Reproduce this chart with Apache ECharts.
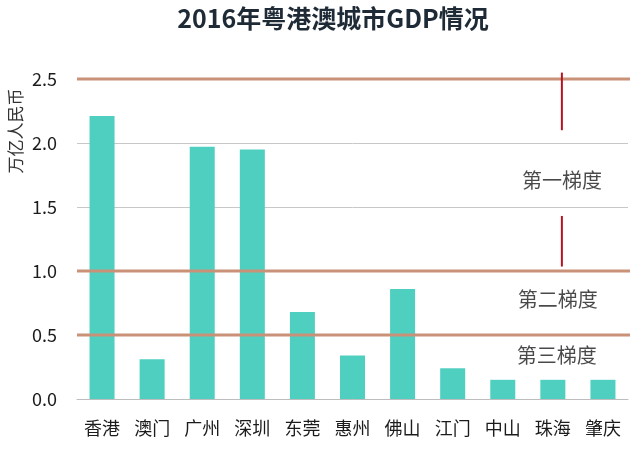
<!DOCTYPE html>
<html><head><meta charset="utf-8">
<script src="https://cdn.jsdelivr.net/npm/echarts@6/dist/echarts.min.js"></script>
<style>html,body{margin:0;padding:0;background:#fff}#c{width:640px;height:455px}</style>
</head><body><div id="c"></div>
<script>
const titleText = '2016年粤港澳城市GDP情况';
const yAxisName = '万亿人民币';
const cities = ['香港','澳门','广州','深圳','东莞','惠州','佛山','江门','中山','珠海','肇庆'];
const gdp = [2.21, 0.31, 1.97, 1.95, 0.68, 0.34, 0.86, 0.24, 0.15, 0.15, 0.15];
const yTicks = [0, 0.5, 1.0, 1.5, 2.0, 2.5];
const tierLines = [2.5, 1.0, 0.5];
const tierLabels = [[9.18, 1.71, '第一梯度'], [9.10, 0.775, '第二梯度'], [9.08, 0.34, '第三梯度']];
const redSeg1 = [[9.18, 2.55], [9.18, 2.10]];
const redSeg2 = [[9.18, 1.43], [9.18, 1.035]];
const lineSpan = [-0.5, 10.62];

const FONT = '"Noto Sans CJK SC", "Noto Sans", sans-serif';
const chart = echarts.init(document.getElementById('c'));
const series = [{
  type: 'bar', data: gdp, barWidth: 25,
  itemStyle: { color: '#4ecfc0' }, z: 2
}];
tierLines.forEach(v => series.push({
  type: 'line', xAxisIndex: 1, clip: false, z: 4, symbol: 'none', silent: true,
  data: lineSpan.map(x => [x, v]),
  lineStyle: { color: '#c99278', width: 3 }
}));
[redSeg1, redSeg2].forEach(seg => series.push({
  type: 'line', xAxisIndex: 1, clip: false, z: 5, symbol: 'none', silent: true,
  data: seg, lineStyle: { color: '#b3141f', width: 2 }
}));
series.push({
  type: 'scatter', xAxisIndex: 1, symbolSize: 0, z: 6,
  data: tierLabels.map(d => ({ value: [d[0], d[1]], name: d[2] })),
  label: { show: true, position: 'inside', formatter: p => p.name,
    fontFamily: FONT, fontSize: 20, color: '#1c1c1c' }
});
chart.setOption({
  animation: false,
  backgroundColor: '#fff',
  title: { text: titleText, left: 328, top: 1, textAlign: 'center',
    textStyle: { fontFamily: FONT, fontSize: 25, fontWeight: 'bold', color: '#1e2a36' } },
  grid: { left: 77, right: 12, top: 79, bottom: 56 },
  xAxis: [{
    type: 'category', data: cities,
    axisTick: { show: false },
    axisLine: { lineStyle: { color: '#bdbdbd', width: 1 } },
    axisLabel: { fontFamily: FONT, fontSize: 18, color: '#1c1c1c', margin: 20 }
  }, {
    type: 'value', min: -0.5, max: 10.5, show: false
  }],
  yAxis: {
    type: 'value', min: yTicks[0], max: yTicks[yTicks.length - 1], interval: 0.5,
    axisLabel: { fontFamily: FONT, fontSize: 18, color: '#1c1c1c', margin: 20,
      formatter: v => v.toFixed(1) },
    splitLine: { lineStyle: { color: '#c8c8c8', width: 1 } },
    axisLine: { show: false }, axisTick: { show: false }
  },
  graphic: [{
    type: 'text', x: 16, y: 131, rotation: Math.PI / 2,
    style: { text: yAxisName, font: '17px ' + FONT, fill: '#333',
      textAlign: 'center', textVerticalAlign: 'middle' }
  }],
  series: series
});
</script></body></html>
